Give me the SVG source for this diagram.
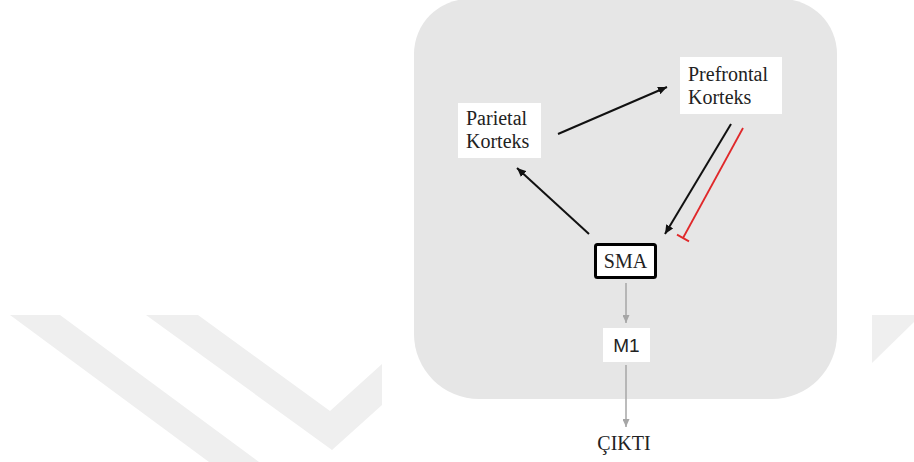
<svg xmlns="http://www.w3.org/2000/svg" width="914" height="462" viewBox="0 0 914 462">
<style>
.wm{fill:#efefef}
.bg{fill:#e6e6e6}
.box{fill:#ffffff}
.serif{font-family:"Liberation Serif","Times New Roman",serif;font-size:20px;fill:#222}
.sans{font-family:"Liberation Sans",Arial,sans-serif;font-size:19px;fill:#222}
.blk{stroke:#111;stroke-width:2;fill:none}
.gry{stroke:#a6a6a6;stroke-width:1.5;fill:none}
.red{stroke:#e0282a;stroke-width:1.8;fill:none}
</style>
<defs>
<marker id="ab" markerUnits="userSpaceOnUse" markerWidth="10" markerHeight="8" refX="9" refY="4" orient="auto"><path d="M0,0 L9,4 L0,8 Z" fill="#111"/></marker>
<marker id="ag" markerUnits="userSpaceOnUse" markerWidth="9" markerHeight="7" refX="8" refY="3.5" orient="auto"><path d="M0,0 L8,3.5 L0,7 Z" fill="#a6a6a6"/></marker>
</defs>
<g id="watermark">
<polygon class="wm" points="10,315 60,315 259,462 209,462"/>
<polygon class="wm" points="146,315 198,315 330,411 382,364 382,405 332,450"/>
<polygon class="wm" points="872,315 914,315 914,322 872,363"/>
</g>
<path id="panel" class="bg" d="M469,-1 H782 A55,55 0 0 1 837,54 V334 A65,65 0 0 1 772,399 H479 A65,65 0 0 1 414,334 V54 A55,55 0 0 1 469,-1 Z"/>
<g id="connectors">
<line class="blk" x1="558" y1="134" x2="667" y2="87" marker-end="url(#ab)"/>
<line class="blk" x1="589" y1="234" x2="517" y2="168" marker-end="url(#ab)"/>
<line class="blk" x1="731" y1="124" x2="665" y2="234" marker-end="url(#ab)"/>
<line class="red" x1="743" y1="128" x2="683" y2="238"/>
<line class="red" x1="677" y1="234.6" x2="689" y2="241.4"/>
<line class="gry" x1="626" y1="283" x2="626" y2="323" marker-end="url(#ag)"/>
<line class="gry" x1="626" y1="365" x2="626" y2="427" marker-end="url(#ag)"/>
</g>
<g id="parietal">
<rect class="box" x="458" y="103" width="83" height="55"/>
<text class="serif" x="466" y="125">Parietal</text>
<text class="serif" x="466" y="148">Korteks</text>
</g>
<g id="prefrontal">
<rect class="box" x="680" y="57" width="102" height="57"/>
<text class="serif" x="688" y="81">Prefrontal</text>
<text class="serif" x="688" y="104">Korteks</text>
</g>
<g id="sma">
<rect x="595.5" y="244.5" width="60" height="33" rx="2" fill="#fff" stroke="#000" stroke-width="3"/>
<text class="serif" x="625.5" y="268" text-anchor="middle">SMA</text>
</g>
<g id="m1">
<rect class="box" x="603" y="328" width="47" height="34"/>
<text class="sans" x="626.5" y="352" text-anchor="middle">M1</text>
</g>
<g id="cikti">
<text class="serif" x="624" y="450" text-anchor="middle">ÇIKTI</text>
</g>
</svg>
